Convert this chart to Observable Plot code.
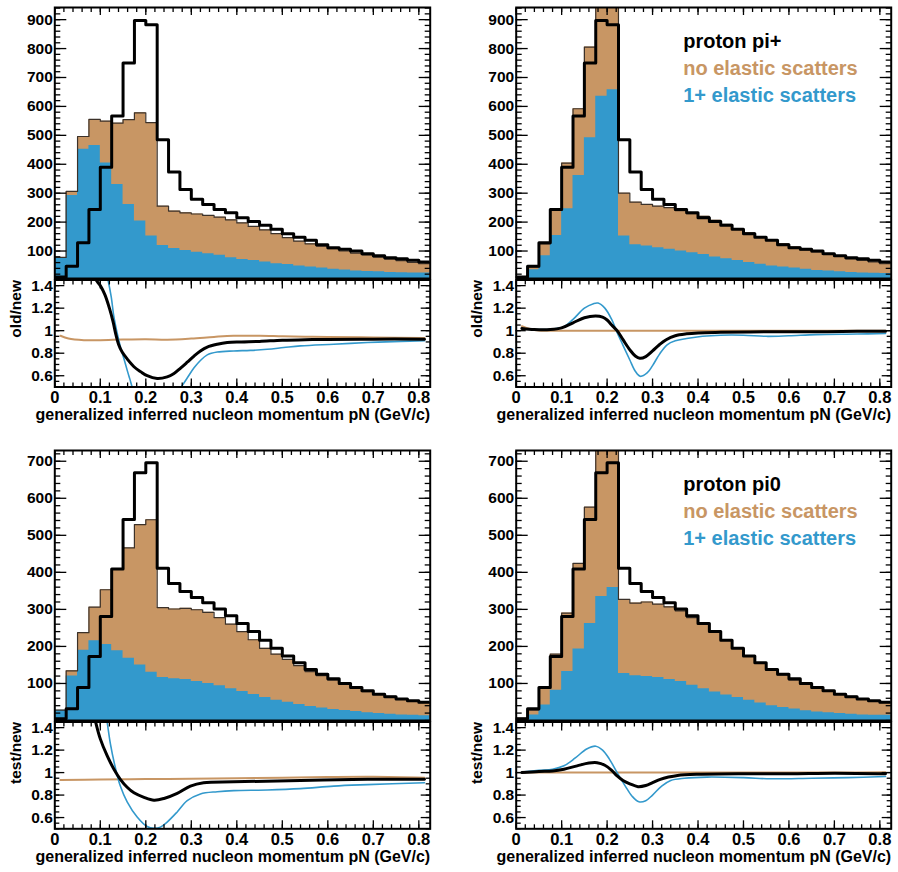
<!DOCTYPE html>
<html>
<head>
<meta charset="utf-8">
<script src="https://cdn.jsdelivr.net/npm/d3@7"></script>
<script src="https://cdn.jsdelivr.net/npm/@observablehq/plot@0.6"></script>
<style>
  html, body { margin: 0; padding: 0; background: #fff; }
  #chart { position: relative; width: 898px; height: 872px; overflow: hidden; }
  #chart svg { position: absolute; left: 0; top: 0; }
</style>
</head>
<body>
<div id="chart"></div>
<script>
// ---------- histogram contents: 33 bins of 0.025 GeV/c in pN ----------
const binWidth = 0.025;
const binEdges = d3.range(34).map(i => Math.round(i * binWidth * 1000) / 1000);

// reference ("new") distribution, upper row
const newUpper = [10, 47, 129, 244, 390, 567, 750, 897, 882, 485, 373, 313, 279, 261, 244, 232, 215,
  202, 189, 175, 160, 148, 137, 122, 111, 106, 100, 91, 84, 77, 73, 68, 62];
// "old" sample: all events and the subset with 1+ elastic scatters
const oldAll = [78, 306, 496, 555, 549, 542, 554, 578, 544, 255, 238, 232, 228, 223, 217, 208, 197,
  185, 173, 160, 146, 134, 125, 117, 108, 100, 93, 87, 79, 72, 67, 61, 56];
const oldElastic = [76, 292, 452, 465, 404, 330, 261, 204, 152, 119, 109, 102, 96, 91, 85, 77, 71,
  67, 62, 56, 53, 48, 45, 41, 37, 34, 31, 29, 28, 26, 25, 24, 24];
// proton pi+ sample
const piPlusAll = [10, 45, 125, 243, 404, 592, 805, 1010, 985, 300, 269, 261, 255, 250, 240, 229, 220,
  206, 192, 177, 163, 148, 137, 125, 114, 104, 97, 88, 81, 73, 68, 62, 56];
const piPlusElastic = [8, 35, 84, 154, 246, 361, 492, 635, 658, 152, 122, 117, 111, 106, 100, 94, 88,
  79, 73, 67, 60, 54, 48, 45, 41, 37, 33, 31, 28, 26, 24, 23, 22];

// reference ("new") distribution, lower row
const newLower = [5, 32, 89, 173, 281, 409, 543, 669, 696, 411, 370, 348, 332, 318, 301, 283, 262,
  240, 217, 195, 174, 156, 138, 125, 113, 100, 89, 80, 71, 64, 58, 53, 49];
// "test" sample
const testAll = [28, 134, 237, 306, 353, 409, 466, 529, 542, 305, 301, 303, 299, 292, 278, 260, 240,
  218, 195, 179, 165, 148, 132, 121, 109, 98, 88, 78, 71, 65, 59, 53, 48];
const testElastic = [28, 120, 190, 215, 205, 188, 168, 150, 130, 116, 113, 111, 105, 100, 94, 86, 78,
  70, 62, 55, 49, 43, 38, 34, 30, 27, 24, 21, 19, 17, 15, 14, 13];
// proton pi0 sample
const pi0All = [6, 28, 89, 179, 290, 424, 576, 760, 775, 327, 317, 320, 314, 307, 296, 278, 262,
  238, 217, 195, 175, 155, 136, 123, 109, 98, 89, 80, 71, 65, 59, 53, 48];
const pi0Elastic = [5, 15, 42, 82, 132, 193, 262, 335, 359, 127, 121, 119, 116, 111, 105, 95, 86,
  77, 69, 62, 55, 47, 40, 35, 31, 26, 23, 21, 19, 17, 15, 14, 14];

// ---------- smoothed ratio curves: [pN, ratio] ----------
const oldRatioAll = [[0.0125, 0.955], [0.03, 0.93], [0.064, 0.916], [0.1, 0.916], [0.15, 0.922], [0.2, 0.925],
  [0.247, 0.92], [0.3, 0.93], [0.35, 0.945], [0.393, 0.955], [0.45, 0.955], [0.5, 0.95], [0.55, 0.946],
  [0.6, 0.944], [0.7, 0.94], [0.8125, 0.934]];
const oldRatioSum = [[0.05, 2.1], [0.0625, 1.78], [0.075, 1.6], [0.089, 1.46], [0.1, 1.4], [0.11, 1.32],
  [0.12, 1.2], [0.128, 1.08], [0.134, 0.97], [0.14, 0.88], [0.148, 0.81], [0.159, 0.75], [0.174, 0.68],
  [0.189, 0.635], [0.203, 0.6], [0.225, 0.575], [0.247, 0.59], [0.262, 0.62], [0.277, 0.67], [0.291, 0.72],
  [0.306, 0.775], [0.32, 0.82], [0.335, 0.855], [0.357, 0.88], [0.379, 0.895], [0.41, 0.9], [0.45, 0.905],
  [0.5, 0.915], [0.55, 0.92], [0.6, 0.922], [0.7, 0.925], [0.8125, 0.925]];
const oldRatioElastic = [[0.08, 2.3], [0.1, 1.75], [0.117, 1.45], [0.124, 1.3], [0.13, 1.12], [0.137, 0.98],
  [0.144, 0.86], [0.152, 0.75], [0.159, 0.65], [0.165, 0.57], [0.171, 0.49], [0.19, 0.36], [0.21, 0.3],
  [0.23, 0.3], [0.25, 0.36], [0.265, 0.43], [0.276, 0.49], [0.291, 0.58], [0.306, 0.67], [0.32, 0.735],
  [0.335, 0.785], [0.357, 0.81], [0.393, 0.82], [0.43, 0.825], [0.467, 0.835], [0.503, 0.85], [0.54, 0.865],
  [0.613, 0.88], [0.687, 0.895], [0.76, 0.905], [0.8125, 0.91]];

const piPlusRatioAll = [[0.0125, 1.04], [0.03, 1.015], [0.05, 1.002], [0.1, 0.999], [0.2, 1.0], [0.3, 1.0],
  [0.4, 1.0], [0.5, 1.0], [0.6, 1.0], [0.7, 1.0], [0.8125, 1.0]];
const piPlusRatioSum = [[0.0125, 1.02], [0.04, 1.01], [0.075, 1.01], [0.1, 1.025], [0.125, 1.07], [0.15, 1.115],
  [0.175, 1.13], [0.19, 1.12], [0.2, 1.095], [0.21, 1.05], [0.222, 1.0], [0.235, 0.92], [0.25, 0.83],
  [0.262, 0.775], [0.272, 0.755], [0.285, 0.77], [0.3, 0.82], [0.315, 0.875], [0.33, 0.92], [0.35, 0.955],
  [0.375, 0.972], [0.4, 0.98], [0.45, 0.985], [0.55, 0.99], [0.65, 0.99], [0.75, 0.995], [0.8125, 0.995]];
const piPlusRatioElastic = [[0.0125, 1.015], [0.05, 1.01], [0.08, 1.015], [0.105, 1.035], [0.125, 1.1],
  [0.15, 1.2], [0.17, 1.24], [0.18, 1.245], [0.195, 1.2], [0.21, 1.1], [0.222, 0.985], [0.235, 0.87],
  [0.25, 0.74], [0.262, 0.64], [0.273, 0.595], [0.288, 0.625], [0.3, 0.69], [0.315, 0.79], [0.332, 0.875],
  [0.35, 0.91], [0.375, 0.93], [0.41, 0.95], [0.45, 0.96], [0.5, 0.96], [0.55, 0.95], [0.6, 0.955],
  [0.66, 0.965], [0.75, 0.97], [0.8125, 0.975]];

const testRatioAll = [[0.0125, 0.933], [0.1, 0.938], [0.2, 0.942], [0.3, 0.946], [0.4, 0.95], [0.5, 0.955],
  [0.6, 0.96], [0.7, 0.962], [0.8125, 0.954]];
const testRatioSum = [[0.05, 2.2], [0.07, 1.75], [0.089, 1.46], [0.1, 1.3], [0.115, 1.15], [0.13, 1.03],
  [0.144, 0.94], [0.159, 0.87], [0.174, 0.82], [0.196, 0.78], [0.218, 0.755], [0.24, 0.77], [0.269, 0.815],
  [0.298, 0.88], [0.327, 0.91], [0.393, 0.918], [0.54, 0.93], [0.687, 0.94], [0.8125, 0.94]];
const testRatioElastic = [[0.09, 2.2], [0.105, 1.7], [0.115, 1.45], [0.122, 1.26], [0.133, 1.045],
  [0.144, 0.88], [0.159, 0.74], [0.181, 0.605], [0.203, 0.52], [0.218, 0.505], [0.232, 0.515], [0.247, 0.56],
  [0.269, 0.65], [0.291, 0.75], [0.32, 0.81], [0.357, 0.83], [0.393, 0.84], [0.467, 0.845], [0.54, 0.857],
  [0.613, 0.88], [0.687, 0.893], [0.8125, 0.91]];

const pi0RatioAll = [[0.0125, 1.0], [0.1, 1.0], [0.2, 1.0], [0.3, 1.0], [0.4, 1.0], [0.5, 1.0], [0.6, 1.0],
  [0.7, 1.0], [0.8125, 1.003]];
const pi0RatioSum = [[0.0125, 1.0], [0.05, 1.01], [0.08, 1.015], [0.105, 1.03], [0.134, 1.06], [0.16, 1.085],
  [0.178, 1.088], [0.195, 1.065], [0.21, 1.02], [0.222, 0.97], [0.235, 0.93], [0.25, 0.9], [0.268, 0.875],
  [0.285, 0.885], [0.3, 0.91], [0.317, 0.94], [0.335, 0.96], [0.355, 0.975], [0.4, 0.985], [0.5, 0.99],
  [0.6, 0.99], [0.7, 0.995], [0.8125, 0.99]];
const pi0RatioElastic = [[0.0125, 1.005], [0.05, 1.02], [0.08, 1.03], [0.105, 1.06], [0.13, 1.13],
  [0.155, 1.21], [0.175, 1.235], [0.19, 1.2], [0.205, 1.12], [0.222, 1.0], [0.24, 0.88], [0.255, 0.79],
  [0.27, 0.74], [0.285, 0.75], [0.3, 0.8], [0.32, 0.88], [0.34, 0.93], [0.37, 0.95], [0.42, 0.96],
  [0.5, 0.955], [0.56, 0.945], [0.65, 0.95], [0.73, 0.955], [0.8125, 0.965]];

// ---------- axis ticks and labels ----------
const xMajor = [0, 0.1, 0.2, 0.3, 0.4, 0.5, 0.6, 0.7, 0.8];
const xTickLabels = ["0", "0.1", "0.2", "0.3", "0.4", "0.5", "0.6", "0.7", "0.8"];
const ratioMajor = [0.6, 0.8, 1, 1.2, 1.4];
const ratioTickLabels = ["0.6", "0.8", "1", "1.2", "1.4"];
const xTitle = "generalized inferred nucleon momentum pN (GeV/c)";

// ---------- drawing ----------
const W = 898, H = 872;
const TAN = "#c89664", BLUE = "#3399cc";
const FONT = "'Liberation Sans', Arial, Helvetica, sans-serif";
const X_DOMAIN = [0, 0.825];
const xMinor = d3.range(0, 41).map(i => Math.round(i * 20) / 1000);

function margins([x0, x1, y0, y1]) {
  return {marginLeft: x0, marginRight: W - x1, marginTop: y0, marginBottom: H - y1};
}
const blank = () => "";
function inwardY(major, minor, big, small) {
  const o = {label: null, tickFormat: blank, strokeWidth: 1.3};
  return [
    Plot.axisY({...o, anchor: "left", ticks: minor, tickSize: small, dx: small}),
    Plot.axisY({...o, anchor: "left", ticks: major, tickSize: big, dx: big}),
    Plot.axisY({...o, anchor: "right", ticks: minor, tickSize: small, dx: -small}),
    Plot.axisY({...o, anchor: "right", ticks: major, tickSize: big, dx: -big})
  ];
}
function inwardX(side, big, small) {
  const o = {label: null, tickFormat: blank, strokeWidth: 1.3, anchor: side};
  const s = side === "top" ? 1 : -1;
  return [
    Plot.axisX({...o, ticks: xMinor, tickSize: small, dy: s * small}),
    Plot.axisX({...o, ticks: xMajor, tickSize: big, dy: s * big})
  ];
}
function steps(values) {
  const pts = values.map((v, i) => ({x: binEdges[i], y: v}));
  pts.push({x: binEdges[values.length], y: values[values.length - 1]});
  return pts;
}

function histogramPanel({frame, yMax, yMin, yMajor, all, elastic, reference, legend}) {
  const yMinor = d3.range(0, yMax, 20).filter(v => v >= yMin);
  const marks = [
    Plot.areaY(steps(all), {x: "x", y1: 0, y2: "y", curve: "step-after", fill: TAN, clip: true}),
    Plot.areaY(steps(elastic), {x: "x", y1: 0, y2: "y", curve: "step-after", fill: BLUE, clip: true}),
    Plot.line(steps(all), {x: "x", y: "y", curve: "step-after", stroke: "#3b3129", strokeWidth: 1.2, clip: true}),
    Plot.line(steps(reference), {x: "x", y: "y", curve: "step-after", stroke: "#000", strokeWidth: 3, clip: true}),
    ...inwardY(yMajor, yMinor, 12, 6),
    ...inwardX("top", 7, 4),
    Plot.text(yMajor, {y: d => d, text: d => String(d), frameAnchor: "left", textAnchor: "end", dx: -2,
      fontSize: 15.5, fontWeight: "bold", fill: "#000"}),
    Plot.frame({stroke: "#000", strokeWidth: 2})
  ];
  if (legend) {
    legend.forEach((item, i) => {
      marks.push(Plot.text([item.label], {text: d => d, frameAnchor: "top-left", textAnchor: "start",
        lineAnchor: "middle", dx: 167, dy: 34 + 26.8 * i, fontSize: 20, fontWeight: "bold", fill: item.color}));
    });
  }
  return Plot.plot({
    width: W, height: H, ...margins(frame),
    x: {domain: X_DOMAIN}, y: {domain: [yMin, yMax]},
    style: {fontFamily: FONT, background: "transparent", overflow: "visible"},
    marks
  });
}

function ratioPanel({frame, yTitle, all, sum, elastic}) {
  const ratioMinor = d3.range(10, 30).map(i => i * 0.05);
  const curve = (pts, color, width) => Plot.line(pts, {x: d => d[0], y: d => d[1], curve: "catmull-rom",
    stroke: color, strokeWidth: width, clip: true});
  return Plot.plot({
    width: W, height: H, ...margins(frame),
    x: {domain: X_DOMAIN}, y: {domain: [0.5, 1.45]},
    style: {fontFamily: FONT, background: "transparent", overflow: "visible"},
    marks: [
      curve(all, TAN, 2),
      curve(elastic, BLUE, 1.6),
      curve(sum, "#000", 3),
      ...inwardY(ratioMajor, ratioMinor, 10, 5),
      ...inwardX("top", 8, 4),
      ...inwardX("bottom", 8, 4),
      Plot.text(ratioMajor, {y: d => d, text: (d, i) => ratioTickLabels[i], frameAnchor: "left",
        textAnchor: "end", dx: -2, fontSize: 15.5, fontWeight: "bold", fill: "#000"}),
      Plot.text(xMajor, {x: d => d, text: (d, i) => xTickLabels[i], frameAnchor: "bottom",
        lineAnchor: "middle", dy: 11, fontSize: 16.5, fontWeight: "bold", fill: "#000"}),
      Plot.text([xTitle], {text: d => d, frameAnchor: "bottom-right", textAnchor: "end",
        lineAnchor: "middle", dy: 28, fontSize: 16, fontWeight: "bold", fill: "#000"}),
      Plot.text([yTitle], {text: d => d, frameAnchor: "top-left", textAnchor: "end", rotate: -90,
        lineAnchor: "middle", dx: -39, fontSize: 15.5, fontWeight: "bold", fill: "#000"}),
      Plot.frame({stroke: "#000", strokeWidth: 2})
    ]
  });
}

const legendPi = name => [
  {label: name, color: "#000"},
  {label: "no elastic scatters", color: TAN},
  {label: "1+ elastic scatters", color: BLUE}
];

const chart = document.getElementById("chart");
const upperMajor = [100, 200, 300, 400, 500, 600, 700, 800, 900];
const lowerMajor = [100, 200, 300, 400, 500, 600, 700];

chart.append(
  histogramPanel({frame: [54.3, 429.7, 7, 278], yMin: 5, yMax: 942, yMajor: upperMajor,
    all: oldAll, elastic: oldElastic, reference: newUpper}),
  ratioPanel({frame: [54.3, 429.7, 279.5, 386.5], yTitle: "old/new",
    all: oldRatioAll, sum: oldRatioSum, elastic: oldRatioElastic}),
  histogramPanel({frame: [515.7, 890.7, 7, 278], yMin: 5, yMax: 942, yMajor: upperMajor,
    all: piPlusAll, elastic: piPlusElastic, reference: newUpper, legend: legendPi("proton pi+")}),
  ratioPanel({frame: [515.7, 890.7, 279.5, 386.5], yTitle: "old/new",
    all: piPlusRatioAll, sum: piPlusRatioSum, elastic: piPlusRatioElastic}),
  histogramPanel({frame: [54.3, 429.7, 450, 720], yMin: 0, yMax: 729, yMajor: lowerMajor,
    all: testAll, elastic: testElastic, reference: newLower}),
  ratioPanel({frame: [54.3, 429.7, 721.5, 828.3], yTitle: "test/new",
    all: testRatioAll, sum: testRatioSum, elastic: testRatioElastic}),
  histogramPanel({frame: [515.7, 890.7, 450, 720], yMin: 0, yMax: 729, yMajor: lowerMajor,
    all: pi0All, elastic: pi0Elastic, reference: newLower, legend: legendPi("proton pi0")}),
  ratioPanel({frame: [515.7, 890.7, 721.5, 828.3], yTitle: "test/new",
    all: pi0RatioAll, sum: pi0RatioSum, elastic: pi0RatioElastic})
);
</script>
</body>
</html>
